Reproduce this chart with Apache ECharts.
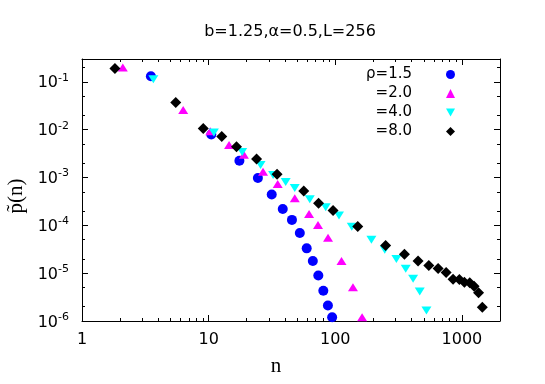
<!DOCTYPE html>
<html>
<head>
<meta charset="utf-8">
<script src="https://cdn.jsdelivr.net/npm/echarts@6/dist/echarts.min.js"></script>
<style>
html,body{margin:0;padding:0;background:#fff;}
#chart{width:545px;height:384px;}
</style>
</head>
<body>
<div id="chart"></div>
<script>
// ---- data ----
const titleText = 'b=1.25,\u03b1=0.5,L=256';
const seriesNames = ['\u03c1=1.5', '=2.0', '=4.0', '=8.0'];
const xTickLabels = ['1', '10', '100', '1000'];
const yTickExponents = [-6, -5, -4, -3, -2, -1];

const rho15_n = [3.5, 10.5, 17.5, 24.5, 31.5, 38.5, 45.5, 52.5, 59.5, 66.5, 73.5, 80.5, 87.5, 94.5];
const rho15_p = [0.131, 0.0079, 0.00224, 9.8e-4, 4.4e-4, 2.2e-4, 1.3e-4, 6.9e-5, 3.3e-5, 1.8e-5, 8.9e-6, 4.3e-6, 2.1e-6, 1.2e-6];

const rho20_n = [2.1, 6.3, 10.3, 14.5, 19.0, 26.9, 35.1, 47.9, 62.1, 73.1, 87.7, 112, 138, 163];
const rho20_p = [0.199, 0.0257, 0.0093, 0.0048, 0.0030, 0.00132, 7.3e-4, 3.7e-4, 1.73e-4, 1.01e-4, 5.5e-5, 1.8e-5, 5.1e-6, 1.2e-6];

const rho40_n = [3.66, 11.0, 18.4, 25.7, 32.3, 40.6, 47.9, 62.9, 84.1, 107, 135, 193, 246, 304, 360, 412, 465, 525];
const rho40_p = [0.1135, 0.0087, 0.0034, 0.00182, 0.00113, 8.05e-4, 6.0e-4, 3.5e-4, 2.4e-4, 1.6e-4, 9.3e-5, 5.0e-5, 3.1e-5, 1.97e-5, 1.23e-5, 7.6e-6, 4.15e-6, 1.66e-6];

const rho80_n = [1.82, 5.5, 9.07, 12.7, 16.6, 23.9, 34.7, 56.4, 73.8, 96.1, 150.6, 250, 352, 451, 548, 649, 751, 852, 955, 1047, 1154, 1248, 1355, 1450];
const rho80_p = [0.190, 0.0371, 0.0106, 0.0072, 0.0044, 0.00243, 0.00117, 5.2e-4, 2.9e-4, 2.03e-4, 9.5e-5, 3.8e-5, 2.5e-5, 1.8e-5, 1.45e-5, 1.25e-5, 1.03e-5, 7.5e-6, 7.4e-6, 6.45e-6, 6.3e-6, 5.35e-6, 3.9e-6, 1.94e-6];

const xMin = 1, xMax = 2000, yMin = 1e-6, yMax = 0.3;
const xMinorMult = [2, 3, 4, 5, 6, 7, 8, 9];
const yMinorMult = [2, 5];

// ---- build options ----
const zip = (a, b) => a.map((v, i) => [v, b[i]]);
const downTri = 'path://M0,0L10,0L5,9Z';
const colors = ['#0000ff', '#ff00ff', '#00ffff', '#000000'];
const symbols = ['circle', 'triangle', downTri, 'diamond'];
const sizes = [10, [10, 8], [10, 8], 11];
const dataSets = [zip(rho15_n, rho15_p), zip(rho20_n, rho20_p), zip(rho40_n, rho40_p), zip(rho80_n, rho80_p)];

const isPow10 = v => Math.abs(Math.log10(v) - Math.round(Math.log10(v))) < 1e-6;

const minorX = [];
for (let d = 0; d <= 3; d++) xMinorMult.forEach(k => { const v = k * Math.pow(10, d); if (v < xMax) minorX.push(Math.log10(v)); });
const minorY = [];
for (let d = -6; d <= -1; d++) yMinorMult.forEach(k => { const v = k * Math.pow(10, d); if (v < yMax) minorY.push(Math.log10(v)); });

const sans = 'DejaVu Sans';
const serif = 'Liberation Serif';
const lineCol = '#000';

const gridRect = { left: 82, right: 45, top: 59, bottom: 63, containLabel: false, outerBoundsMode: 'none' };

const majorX = (pos, labels) => ({
  type: 'log', logBase: 10, gridIndex: 0, position: pos, min: xMin, max: xMax, interval: 1,
  axisLine: { show: true, onZero: false, lineStyle: { color: lineCol, width: 1 } },
  axisTick: { show: true, inside: true, length: 6, lineStyle: { color: lineCol, width: 1 } },
  minorTick: { show: false }, splitLine: { show: false },
  axisLabel: labels ? {
    show: true, margin: 11, color: '#000', fontFamily: sans, fontSize: 16,
    showMinLabel: true, showMaxLabel: true,
    formatter: v => {
      if (!isPow10(v)) return '';
      const e = Math.round(Math.log10(v));
      return xTickLabels[e] !== undefined ? xTickLabels[e] : '';
    }
  } : { show: false },
  name: labels ? 'n' : '', nameLocation: 'middle', nameGap: 35,
  nameTextStyle: { fontFamily: serif, fontSize: 21, color: '#000', padding: [0, 30, 0, 0] }
});

const majorY = (pos, labels) => ({
  type: 'log', logBase: 10, gridIndex: 0, position: pos, min: yMin, max: yMax, interval: 1,
  axisLine: { show: true, onZero: false, lineStyle: { color: lineCol, width: 1 } },
  axisTick: { show: true, inside: true, length: 6, lineStyle: { color: lineCol, width: 1 } },
  minorTick: { show: false }, splitLine: { show: false },
  axisLabel: labels ? {
    show: true, margin: 13, color: '#000', fontFamily: sans, fontSize: 16,
    showMinLabel: true, showMaxLabel: true,
    formatter: v => {
      if (!isPow10(v)) return '';
      const e = Math.round(Math.log10(v));
      return yTickExponents.indexOf(e) >= 0 ? '{b|10}{s|' + e + '}' : '';
    },
    rich: {
      b: { fontFamily: sans, fontSize: 16, color: '#000', verticalAlign: 'bottom' },
      s: { fontFamily: sans, fontSize: 11, color: '#000', verticalAlign: 'top', padding: [0, 0, 8, 0] }
    }
  } : { show: false },
  name: labels ? 'p\u0303(n)' : '', nameLocation: 'middle', nameGap: 52,
  nameTextStyle: { fontFamily: serif, fontSize: 21, color: '#000', padding: [0, 12, 0, 0] }
});

const minorAxis = (pos, min, max, vals) => ({
  type: 'value', gridIndex: 1, position: pos, min: min, max: max,
  axisLine: { show: false, onZero: false },
  axisTick: { show: true, inside: true, length: 3, customValues: vals, lineStyle: { color: lineCol, width: 1 } },
  axisLabel: { show: false }, splitLine: { show: false }
});

const option = {
  animation: false,
  backgroundColor: '#fff',
  title: {
    text: titleText, left: 290, top: 24, padding: 0, textAlign: 'center',
    textStyle: { fontFamily: sans, fontSize: 16, fontWeight: 'normal', color: '#000' }
  },
  legend: {
    orient: 'vertical', align: 'right', right: 90, top: 67, padding: 0,
    itemWidth: 9, itemHeight: 9, itemGap: 4,
    textStyle: { fontFamily: sans, fontSize: 15, color: '#000', padding: [0, 29, 0, 0] },
    data: seriesNames.map((n, i) => ({ name: n, icon: symbols[i] })),
    selectedMode: false
  },
  grid: [Object.assign({}, gridRect), Object.assign({}, gridRect)],
  xAxis: [
    majorX('bottom', true), majorX('top', false),
    minorAxis('bottom', 0, Math.log10(xMax), minorX), minorAxis('top', 0, Math.log10(xMax), minorX)
  ],
  yAxis: [
    majorY('left', true), majorY('right', false),
    minorAxis('left', Math.log10(yMin), Math.log10(yMax), minorY), minorAxis('right', Math.log10(yMin), Math.log10(yMax), minorY)
  ],
  series: dataSets.map((d, i) => ({
    name: seriesNames[i], type: 'scatter', xAxisIndex: 0, yAxisIndex: 0,
    data: d, symbol: symbols[i], symbolSize: sizes[i],
    itemStyle: { color: colors[i], opacity: 1 },
    emphasis: { disabled: true }, silent: true
  }))
};

const chart = echarts.init(document.getElementById('chart'), null, { renderer: 'canvas' });
chart.setOption(option);
</script>
</body>
</html>
